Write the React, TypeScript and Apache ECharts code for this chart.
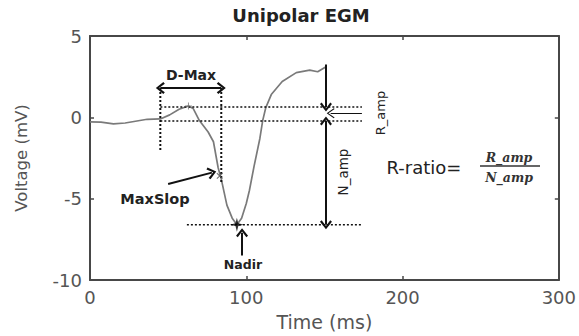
import React, { useEffect, useRef } from "react";
import * as echarts from "echarts";

// ---- data ----
const timeMs = [0, 7, 15, 22.5, 36.6, 45, 51, 57, 63, 66, 70, 75.6, 79, 82, 84, 87.6, 91, 94, 97, 100, 102, 105, 108.7, 110.5, 112.5, 116, 123, 132, 140.6, 145.7, 150.8];
const voltageMv = [-0.28, -0.3, -0.4, -0.35, -0.12, -0.1, 0.15, 0.5, 0.7, 0.55, -0.2, -0.9, -1.5, -3.1, -3.8, -5.4, -6.2, -6.6, -6.2, -5.3, -4.5, -3.0, -1.3, -0.2, 0.6, 1.4, 2.2, 2.75, 2.9, 2.8, 3.1];

const xTicks = { min: 0, max: 300, interval: 100 };
const yTicks = { min: -10, max: 5, interval: 5 };

// annotation geometry in data units (ms, mV)
const rPeakLine = [[45, 0.63], [174, 0.63]];
const baselineLine = [[45, -0.22], [174, -0.22]];
const nadirLine = [[62, -6.6], [174, -6.6]];
const onsetLine = [[45, 1.8], [45, -2.1]];
const dMaxEndLine = [[84, 1.8], [84, -4.0]];

const dMaxArrow = [[45, 1.8], [84, 1.8]];
const rAmpArrow = [[151, 3.25], [151, 0.63]];
const nAmpArrow = [[151, -0.22], [151, -6.6]];
const rPointer = [[174, 0.25], [154, 0.25]];
const maxSlopArrow = [[50, -4.1], [78, -3.4]];
const nadirArrow = [[97.3, -8.5], [97.3, -7.1]];

const nadirPoint = [94, -6.6];
const maxSlopPoint = [83, -3.6];
const peakPoint = [63, 0.7];

const chevron = "path://M6,0 L12,7.5 L10.3,9 L6,3.2 L1.7,9 L0,7.5 Z";
const thinChevron = "path://M6,0 L12,8 L11.2,9 L6,2 L0.8,9 L0,8 Z";
const star4 = "path://M5,0 L6,4 L10,5 L6,6 L5,10 L4,6 L0,5 L4,4 Z";
const plus = "path://M4.3,0 H5.7 V4.3 H10 V5.7 H5.7 V10 H4.3 V5.7 H0 V4.3 H4.3 Z";

const FONT = "DejaVu Sans";
const BOX = "#474747";

function arrow(pts: number[][], startSym: string, endSym: string, size: number[], width: number) {
  return {
    lineStyle: { color: "#111", width, type: "solid" },
    data: [
      [
        { coord: pts[0], symbol: startSym, symbolSize: size },
        { coord: pts[1], symbol: endSym, symbolSize: size },
      ],
    ],
  };
}

export default function App() {
  const ref = useRef<HTMLDivElement>(null);
  useEffect(() => {
    if (!ref.current) return;
    const chart = echarts.init(ref.current, undefined, { renderer: "svg" });

    const dotted = (name: string, pts: number[][], w = 1.5) => ({
      name,
      type: "line",
      data: pts,
      symbol: "none",
      silent: true,
      lineStyle: { color: "#111", width: w, type: [2, 2] },
      z: 3,
    });

    const arrowSeries = (name: string, a: any) => ({
      name,
      type: "line",
      data: [a.data[0][0].coord],
      symbol: "none",
      silent: true,
      lineStyle: { width: 0 },
      markLine: {
        silent: true,
        animation: false,
        label: { show: false },
        emphasis: { disabled: true },
        lineStyle: a.lineStyle,
        data: a.data,
      },
      z: 4,
    });

    const axisLine = { show: true, onZero: false, lineStyle: { color: BOX, width: 2 } };
    const axisTick = { show: true, inside: true, length: 4, lineStyle: { color: BOX, width: 1.5 } };

    chart.setOption({
      animation: false,
      grid: { left: 90, right: 20, top: 36, bottom: 53 },
      xAxis: [
        {
          type: "value",
          position: "bottom",
          ...xTicks,
          axisLine,
          axisTick,
          splitLine: { show: false },
          axisLabel: { color: "#555", fontSize: 18, fontFamily: FONT, margin: 8 },
          name: "Time (ms)",
          nameLocation: "middle",
          nameGap: 32,
          nameTextStyle: { color: "#555", fontSize: 19, fontFamily: FONT },
        },
        {
          type: "value",
          position: "top",
          ...xTicks,
          axisLine,
          axisTick,
          splitLine: { show: false },
          axisLabel: { show: false },
        },
      ],
      yAxis: [
        {
          type: "value",
          position: "left",
          ...yTicks,
          axisLine,
          axisTick,
          splitLine: { show: false },
          axisLabel: { color: "#555", fontSize: 18, fontFamily: FONT, margin: 8 },
          name: "Voltage (mV)",
          nameLocation: "middle",
          nameGap: 60,
          nameTextStyle: { color: "#555", fontSize: 16.5, fontFamily: FONT },
        },
        {
          type: "value",
          position: "right",
          ...yTicks,
          axisLine,
          axisTick,
          splitLine: { show: false },
          axisLabel: { show: false },
        },
      ],
      series: [
        {
          name: "EGM",
          type: "line",
          data: timeMs.map((t, i) => [t, voltageMv[i]]),
          symbol: "none",
          silent: true,
          lineStyle: { color: "#7a7a7a", width: 1.7 },
          z: 2,
        },
        dotted("rPeak", rPeakLine),
        dotted("baseline", baselineLine),
        dotted("nadirLevel", nadirLine),
        dotted("onset", onsetLine, 2),
        dotted("dMaxEnd", dMaxEndLine, 2),
        arrowSeries("dMax", arrow(dMaxArrow, chevron, chevron, [12, 9], 2)),
        arrowSeries("rAmp", arrow(rAmpArrow, "none", chevron, [12, 9], 2)),
        arrowSeries("nAmp", arrow(nAmpArrow, chevron, chevron, [12, 9], 2)),
        arrowSeries("rPointer", arrow(rPointer, "none", thinChevron, [10, 8], 1)),
        arrowSeries("maxSlop", arrow(maxSlopArrow, "none", chevron, [12, 9], 2)),
        arrowSeries("nadirArr", arrow(nadirArrow, "none", chevron, [12, 9], 2)),
        {
          name: "nadirPt",
          type: "scatter",
          data: [nadirPoint],
          symbol: star4,
          symbolSize: 14,
          itemStyle: { color: "#000" },
          silent: true,
          z: 5,
        },
        {
          name: "slopePt",
          type: "scatter",
          data: [maxSlopPoint],
          symbol: plus,
          symbolSize: 8,
          symbolRotate: 45,
          itemStyle: { color: "#555" },
          silent: true,
          z: 5,
        },
        {
          name: "peakPt",
          type: "scatter",
          data: [peakPoint],
          symbol: plus,
          symbolSize: 7,
          itemStyle: { color: "#777" },
          silent: true,
          z: 5,
        },
      ],
      graphic: [
        {
          type: "text",
          x: 301,
          y: 15,
          style: { text: "Unipolar EGM", font: `bold 18px "${FONT}"`, fill: "#222", textAlign: "center", textVerticalAlign: "middle" },
        },
        {
          type: "text",
          x: 191,
          y: 75,
          style: { text: "D-Max", font: `bold 14px "${FONT}"`, fill: "#222", textAlign: "center", textVerticalAlign: "middle" },
        },
        {
          type: "text",
          x: 155,
          y: 199,
          style: { text: "MaxSlop", font: `bold 14.5px "${FONT}"`, fill: "#222", textAlign: "center", textVerticalAlign: "middle" },
        },
        {
          type: "text",
          x: 243,
          y: 264,
          style: { text: "Nadir", font: `bold 12.5px "${FONT}"`, fill: "#222", textAlign: "center", textVerticalAlign: "middle" },
        },
        {
          type: "text",
          x: 424,
          y: 167,
          style: { text: "R-ratio=", font: `18px "${FONT}"`, fill: "#222", textAlign: "center", textVerticalAlign: "middle" },
        },
        {
          type: "text",
          x: 509,
          y: 157,
          style: { text: "R_amp", font: `italic bold 12.5px "DejaVu Serif"`, fill: "#333", textAlign: "center", textVerticalAlign: "middle" },
        },
        {
          type: "text",
          x: 509,
          y: 177,
          style: { text: "N_amp", font: `italic bold 12.5px "DejaVu Serif"`, fill: "#333", textAlign: "center", textVerticalAlign: "middle" },
        },
        {
          type: "line",
          shape: { x1: 480, y1: 166, x2: 540, y2: 166 },
          style: { stroke: "#333", lineWidth: 1.5 },
        },
        {
          type: "text",
          x: 380,
          y: 113,
          rotation: Math.PI / 2,
          style: { text: "R_amp", font: `13px "${FONT}"`, fill: "#222", textAlign: "center", textVerticalAlign: "middle" },
        },
        {
          type: "text",
          x: 343,
          y: 172,
          rotation: Math.PI / 2,
          style: { text: "N_amp", font: `13.5px "${FONT}"`, fill: "#222", textAlign: "center", textVerticalAlign: "middle" },
        },
      ],
    });
    return () => chart.dispose();
  }, []);

  return <div ref={ref} style={{ position: "absolute", left: 0, top: 0, width: 579, height: 336 }} />;
}
